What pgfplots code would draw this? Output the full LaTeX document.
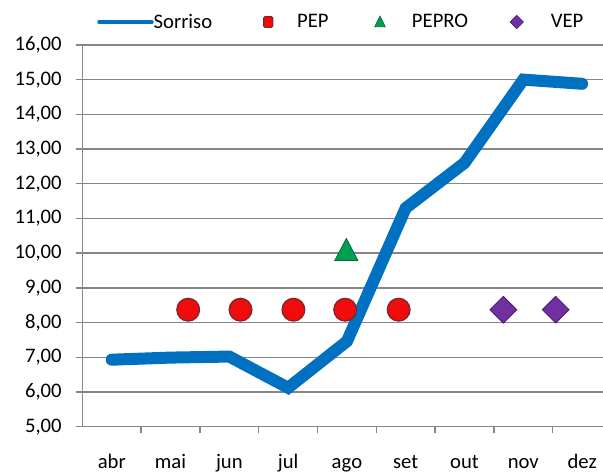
\documentclass[border=0pt]{standalone}
\usepackage{pgfplots}
\pgfplotsset{compat=1.18}
\usepackage{fontspec}
\setmainfont{Carlito}
\definecolor{sorriso}{RGB}{0,112,192}
\definecolor{pep}{RGB}{240,12,12}
\definecolor{pepedge}{RGB}{125,40,40}
\definecolor{pepro}{RGB}{0,160,80}
\definecolor{peproedge}{RGB}{0,105,50}
\definecolor{vep}{RGB}{112,48,160}
\definecolor{vepedge}{RGB}{75,28,115}
\definecolor{gridgray}{RGB}{134,134,134}

\begin{document}
\begin{tikzpicture}
\path[use as bounding box] (-61.75pt,-34.7pt) rectangle (390.5pt,320pt);
\begin{axis}[
  at={(0,0)}, anchor=south west,
  scale only axis, width=390.5pt, height=286.3pt,
  xmin=-0.5, xmax=8.355, ymin=5, ymax=16,
  axis x line*=bottom, axis y line*=left,
  axis line style={gridgray, line width=1pt, -},
  every tick/.style={gridgray, line width=1pt},
  tick align=outside,
  major tick length=5pt, minor tick length=5pt,
  xtick={0,...,8},
  xticklabels={abr,mai,jun,jul,ago,set,out,nov,dez},
  major x tick style={draw=none},
  minor xtick={0.5,1.5,...,7.5},
  ytick={5,...,16},
  ymajorgrids,
  grid style={gridgray, line width=1pt},
  /pgf/number format/assume math mode=true,
  yticklabel style={/pgf/number format/fixed, /pgf/number format/fixed zerofill,
    /pgf/number format/precision=2, /pgf/number format/use comma, xshift=-7pt},
  xticklabel style={anchor=base, yshift=-26.6pt},
  tick label style={font=\fontsize{15.5}{18}\selectfont, text=black},
  legend columns=4,
  legend style={draw=none, fill=none, inner sep=0pt, at={(0.0282,1.06)}, anchor=west,
    font=\fontsize{15.5}{18}\selectfont,
    nodes={inner xsep=0pt, inner ysep=1pt},
    /tikz/column 2/.style={column sep=34.5pt},
    /tikz/column 4/.style={column sep=31pt},
    /tikz/column 6/.style={column sep=29pt}},
]
\addplot[sorriso, line width=9pt, line cap=round, line join=miter, mark=none,
  legend image code/.code={\draw[sorriso, line width=2.3pt] (0pt,0pt) -- (40pt,0pt);}]
  coordinates {(0,6.93) (1,6.99) (2,7.02) (3,6.12) (4,7.46) (5,11.3) (6,12.6) (7,15.0) (8,14.88)};
\addlegendentry{Sorriso}
\addplot[only marks, mark=*, mark size=8.5pt, mark options={fill=pep, draw=pepedge, line width=1pt},
  legend image code/.code={\path[draw=none,fill=none] (-7.5pt,-0.1pt) rectangle (21.75pt,0.1pt); \draw[fill=pep, draw=pepedge, line width=0.8pt, rounded corners=1pt] (-3.5pt,-4pt) rectangle (3.5pt,4pt);}]
  coordinates {(1.30,8.37) (2.19,8.37) (3.09,8.37) (3.97,8.37) (4.88,8.37)};
\addlegendentry{PEP}
\addplot[only marks, mark=triangle*, mark size=10pt, mark options={fill=pepro, draw=peproedge, line width=0.6pt, yscale=1.1},
  legend image code/.code={\path[draw=none,fill=none] (-7.5pt,-0.1pt) rectangle (24pt,0.1pt); \draw[fill=pepro, draw=peproedge, line width=0.5pt] (-4pt,-3.5pt) -- (4pt,-3.5pt) -- (0pt,4.5pt) -- cycle;}]
  coordinates {(3.99,10.0)};
\addlegendentry{PEPRO}
\addplot[only marks, mark=square*, mark size=7.1pt, mark options={fill=vep, draw=vepedge, line width=0.6pt, rotate=45},
  legend image code/.code={\path[draw=none,fill=none] (-7.5pt,-0.1pt) rectangle (25.5pt,0.1pt); \draw[fill=vep, draw=vepedge, line width=0.5pt] (-5pt,0pt) -- (0pt,5pt) -- (5pt,0pt) -- (0pt,-5pt) -- cycle;}]
  coordinates {(6.66,8.37) (7.55,8.37)};
\addlegendentry{VEP}
\end{axis}
\end{tikzpicture}
\end{document}
